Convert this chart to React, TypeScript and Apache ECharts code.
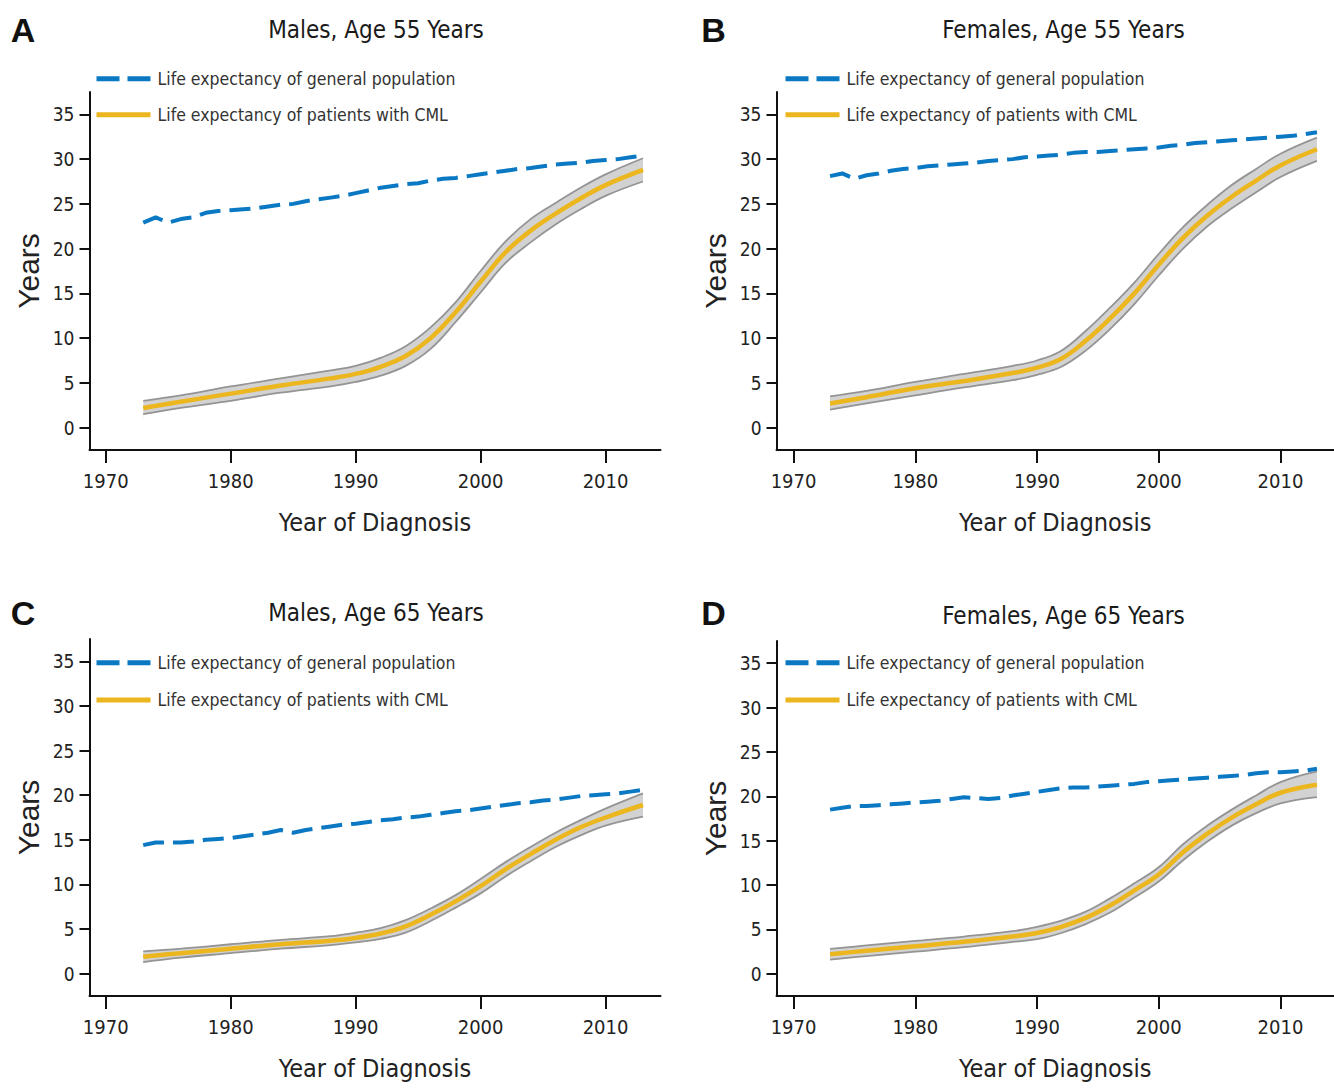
import React, { useEffect, useRef } from "react";
import * as echarts from "echarts";

// ---------- data ----------
const GP_NAME = "Life expectancy of general population";
const CML_NAME = "Life expectancy of patients with CML";

const PANEL_TITLES = ["Males, Age 55 Years", "Females, Age 55 Years", "Males, Age 65 Years", "Females, Age 65 Years"];
const PANEL_LETTERS = ["A", "B", "C", "D"];

const X_TICKS = [1970, 1980, 1990, 2000, 2010];
const Y_TICKS = [0, 5, 10, 15, 20, 25, 30, 35];

const GP_YEARS = [
  1973, 1974, 1975, 1976, 1977, 1978, 1979, 1980, 1981, 1982, 1983, 1984, 1985, 1986,
  1987, 1988, 1989, 1990, 1991, 1992, 1993, 1994, 1995, 1996, 1997, 1998, 1999, 2000,
  2001, 2002, 2003, 2004, 2005, 2006, 2007, 2008, 2009, 2010, 2011, 2012, 2013,
];

const GP_A = [
  22.9, 23.5, 22.9, 23.3, 23.5, 24.0, 24.2, 24.3, 24.4, 24.5, 24.7, 24.9, 25.0, 25.3,
  25.5, 25.7, 25.9, 26.2, 26.5, 26.8, 27.0, 27.2, 27.3, 27.6, 27.8, 27.9, 28.1, 28.3,
  28.5, 28.7, 28.9, 29.0, 29.2, 29.4, 29.5, 29.6, 29.8, 29.9, 30.0, 30.2, 30.4,
];
const GP_B = [
  28.1, 28.4, 27.8, 28.2, 28.4, 28.7, 28.9, 29.0, 29.2, 29.3, 29.4, 29.5, 29.6, 29.8,
  29.9, 30.0, 30.2, 30.3, 30.4, 30.5, 30.7, 30.8, 30.8, 30.9, 31.0, 31.1, 31.2, 31.3,
  31.5, 31.6, 31.8, 31.9, 32.0, 32.1, 32.2, 32.3, 32.4, 32.5, 32.6, 32.8, 33.0,
];
const GP_C = [
  14.4, 14.7, 14.7, 14.7, 14.8, 15.0, 15.1, 15.2, 15.4, 15.6, 15.8, 16.1, 15.8, 16.1,
  16.3, 16.5, 16.7, 16.8, 17.0, 17.2, 17.3, 17.5, 17.6, 17.8, 18.0, 18.2, 18.3, 18.5,
  18.7, 18.9, 19.1, 19.2, 19.4, 19.5, 19.7, 19.9, 20.0, 20.1, 20.2, 20.4, 20.6,
];
const GP_D = [
  18.5, 18.7, 18.9, 18.9, 19.0, 19.1, 19.2, 19.3, 19.4, 19.5, 19.7, 19.9, 19.8, 19.7,
  19.8, 20.1, 20.3, 20.5, 20.7, 20.9, 21.0, 21.0, 21.1, 21.2, 21.3, 21.4, 21.6, 21.7,
  21.8, 21.9, 22.0, 22.1, 22.2, 22.3, 22.4, 22.6, 22.7, 22.7, 22.8, 22.9, 23.1,
];

const CML_YEARS = [1973, 1976, 1980, 1984, 1988, 1990, 1992, 1994, 1996, 1998, 2000, 2002, 2004, 2006, 2008, 2010, 2013];

const CML_A = [2.2, 2.9, 3.8, 4.7, 5.5, 6.0, 6.8, 8.0, 10.0, 12.9, 16.3, 19.6, 22.0, 23.9, 25.6, 27.1, 28.8];
const CML_A_LO = [1.5, 2.2, 3.0, 3.9, 4.6, 5.1, 5.8, 6.9, 8.8, 11.8, 15.1, 18.4, 20.7, 22.7, 24.4, 25.9, 27.5];
const CML_A_HI = [3.0, 3.6, 4.6, 5.5, 6.4, 6.9, 7.8, 9.1, 11.2, 14.0, 17.5, 20.8, 23.3, 25.1, 26.8, 28.3, 30.1];

const CML_B = [2.7, 3.4, 4.4, 5.2, 6.1, 6.7, 7.7, 9.7, 12.2, 15.0, 18.2, 21.2, 23.7, 25.8, 27.6, 29.3, 31.1];
const CML_B_LO = [2.0, 2.7, 3.6, 4.5, 5.3, 5.9, 6.8, 8.6, 11.0, 13.8, 17.0, 20.0, 22.5, 24.5, 26.3, 28.0, 29.8];
const CML_B_HI = [3.5, 4.1, 5.1, 6.0, 6.9, 7.5, 8.6, 10.8, 13.4, 16.2, 19.4, 22.4, 24.9, 27.1, 28.9, 30.6, 32.4];

const CML_C = [1.9, 2.3, 2.8, 3.3, 3.7, 4.0, 4.5, 5.3, 6.6, 8.1, 9.8, 11.7, 13.4, 15.0, 16.4, 17.5, 18.9];
const CML_C_LO = [1.3, 1.8, 2.3, 2.8, 3.2, 3.5, 3.9, 4.6, 5.9, 7.4, 9.0, 10.9, 12.6, 14.2, 15.5, 16.6, 17.6];
const CML_C_HI = [2.5, 2.8, 3.3, 3.8, 4.2, 4.6, 5.1, 6.0, 7.3, 8.8, 10.6, 12.5, 14.2, 15.8, 17.2, 18.5, 20.2];

const CML_D = [2.2, 2.6, 3.1, 3.6, 4.2, 4.6, 5.3, 6.3, 7.7, 9.4, 11.2, 13.7, 15.8, 17.6, 19.1, 20.4, 21.3];
const CML_D_LO = [1.6, 2.0, 2.5, 3.0, 3.6, 3.9, 4.6, 5.6, 6.9, 8.6, 10.4, 12.8, 14.9, 16.7, 18.1, 19.2, 19.9];
const CML_D_HI = [2.8, 3.2, 3.7, 4.2, 4.8, 5.3, 6.0, 7.0, 8.5, 10.2, 12.0, 14.6, 16.7, 18.5, 20.1, 21.6, 22.8];

const GP_SERIES = [GP_A, GP_B, GP_C, GP_D];
const CML_SERIES = [CML_A, CML_B, CML_C, CML_D];
const CML_LO = [CML_A_LO, CML_B_LO, CML_C_LO, CML_D_LO];
const CML_HI = [CML_A_HI, CML_B_HI, CML_C_HI, CML_D_HI];

// ---------- styles / layout ----------
const NARROW = '"DejaVu Sans Condensed", "Liberation Sans Narrow", sans-serif';
const REGULAR = '"Liberation Sans", Arial, Helvetica, sans-serif';
const BLUE = "#0a78c2";
const YELLOW = "#ecb61e";
const BAND_FILL = "#d2d2d2";
const BAND_EDGE = "#949494";
const AXIS = "#111111";
const TEXT = "#222222";

const LAYOUT = [
  { left: 89.5, top: 92, width: 571, height: 358, xmin: 1968.7, xmax: 2014.4, legLeft: 94, legY: [78.7, 114.7], letter: [23, 30], title: [376, 30] },
  { left: 776.5, top: 92, width: 572.5, height: 358, xmin: 1968.6, xmax: 2014.4, legLeft: 783, legY: [78.7, 114.7], letter: [713.5, 30], title: [1063.5, 30] },
  { left: 89.5, top: 639, width: 571, height: 357, xmin: 1968.7, xmax: 2014.4, legLeft: 94, legY: [662.8, 700], letter: [23, 613], title: [376, 613] },
  { left: 776.5, top: 641, width: 572.5, height: 355, xmin: 1968.6, xmax: 2014.4, legLeft: 783, legY: [662.8, 700], letter: [713.5, 613], title: [1063.5, 616] },
];

function zip(xs: number[], ys: number[]) {
  return xs.map((x, i) => [x, ys[i]]);
}

function buildOption() {
  const grid: any[] = [];
  const xAxis: any[] = [];
  const yAxis: any[] = [];
  const series: any[] = [];
  const legend: any[] = [];
  const graphic: any[] = [];

  LAYOUT.forEach((L, i) => {
    grid.push({ left: L.left, top: L.top, width: L.width, height: L.height, containLabel: false });
    xAxis.push({
      type: "value",
      gridIndex: i,
      min: L.xmin,
      max: L.xmax,
      name: "Year of Diagnosis",
      nameLocation: "middle",
      nameGap: 60,
      nameTextStyle: { fontFamily: NARROW, fontSize: 25, color: TEXT },
      axisLine: { show: true, onZero: false, lineStyle: { color: AXIS, width: 2 } },
      axisTick: { show: true, length: 13, lineStyle: { color: AXIS, width: 2 }, customValues: X_TICKS },
      axisLabel: {
        customValues: X_TICKS,
        margin: 21,
        fontFamily: NARROW,
        fontSize: 20,
        color: TEXT,
        formatter: (v: number) => String(Math.round(v)),
      },
      splitLine: { show: false },
    });
    yAxis.push({
      type: "value",
      gridIndex: i,
      min: -2.5,
      max: 37.5,
      name: "Years",
      nameLocation: "middle",
      nameGap: 46,
      nameTextStyle: { fontFamily: REGULAR, fontSize: 30, color: TEXT },
      axisLine: { show: true, onZero: false, lineStyle: { color: AXIS, width: 2 } },
      axisTick: { show: true, length: 10, lineStyle: { color: AXIS, width: 2 }, customValues: Y_TICKS },
      axisLabel: {
        customValues: Y_TICKS,
        margin: 15,
        fontFamily: NARROW,
        fontSize: 19,
        color: TEXT,
        formatter: (v: number) => String(Math.round(v)),
      },
      splitLine: { show: false },
    });

    // confidence band: upper bound filled grey, lower bound filled white (masks below)
    series.push({
      name: "CI upper " + PANEL_LETTERS[i],
      type: "line",
      xAxisIndex: i,
      yAxisIndex: i,
      data: zip(CML_YEARS, CML_HI[i]),
      smooth: 0.4,
      symbol: "none",
      lineStyle: { color: BAND_EDGE, width: 1.8 },
      areaStyle: { color: BAND_FILL, opacity: 1, origin: 1 },
      z: 1,
      silent: true,
    });
    series.push({
      name: "CI lower " + PANEL_LETTERS[i],
      type: "line",
      xAxisIndex: i,
      yAxisIndex: i,
      data: zip(CML_YEARS, CML_LO[i]),
      smooth: 0.4,
      symbol: "none",
      lineStyle: { color: BAND_EDGE, width: 1.8 },
      areaStyle: { color: "#ffffff", opacity: 1, origin: 0 },
      z: 2,
      silent: true,
    });
    series.push({
      name: CML_NAME,
      type: "line",
      xAxisIndex: i,
      yAxisIndex: i,
      data: zip(CML_YEARS, CML_SERIES[i]),
      smooth: 0.4,
      symbol: "none",
      lineStyle: { color: YELLOW, width: 4.5 },
      itemStyle: { color: YELLOW },
      z: 3,
    });
    series.push({
      name: GP_NAME,
      type: "line",
      xAxisIndex: i,
      yAxisIndex: i,
      data: zip(GP_YEARS, GP_SERIES[i]),
      symbol: "none",
      lineStyle: { color: BLUE, width: 4, type: [21, 9], cap: "butt" },
      itemStyle: { color: BLUE },
      z: 4,
    });

    const legCommon = {
      orient: "horizontal",
      left: L.legLeft,
      padding: 0,
      itemWidth: 54,
      itemHeight: 12,
      selectedMode: false,
      itemStyle: { opacity: 0 },
      textStyle: { fontFamily: NARROW, fontSize: 17.5, color: "#333333", lineHeight: 24, padding: [0, 0, 0, 2] },
    };
    legend.push({
      ...legCommon,
      top: L.legY[0] - 12,
      data: [{ name: GP_NAME }],
      lineStyle: { width: 5, type: [23, 8], color: BLUE },
    });
    legend.push({
      ...legCommon,
      top: L.legY[1] - 12,
      data: [{ name: CML_NAME }],
      lineStyle: { width: 5, type: "solid", color: YELLOW },
    });

    graphic.push({
      type: "text",
      x: L.letter[0],
      y: L.letter[1],
      style: { text: PANEL_LETTERS[i], font: 'bold 34px "Liberation Sans", Arial, sans-serif', fill: "#111", align: "center", verticalAlign: "middle" },
    });
    graphic.push({
      type: "text",
      x: L.title[0],
      y: L.title[1],
      style: { text: PANEL_TITLES[i], font: '24px "DejaVu Sans Condensed", sans-serif', fill: "#1a1a1a", align: "center", verticalAlign: "middle" },
    });
  });

  return {
    animation: false,
    backgroundColor: "#ffffff",
    grid,
    xAxis,
    yAxis,
    series,
    legend,
    graphic,
  };
}

export default function App() {
  const ref = useRef<HTMLDivElement | null>(null);
  useEffect(() => {
    if (!ref.current) return;
    const chart = echarts.init(ref.current, null, { renderer: "svg" });
    chart.setOption(buildOption() as any);
    return () => chart.dispose();
  }, []);
  return (
    <div
      ref={ref}
      style={{ position: "absolute", left: 0, top: 0, width: 1334, height: 1089, background: "#fff" }}
    />
  );
}
